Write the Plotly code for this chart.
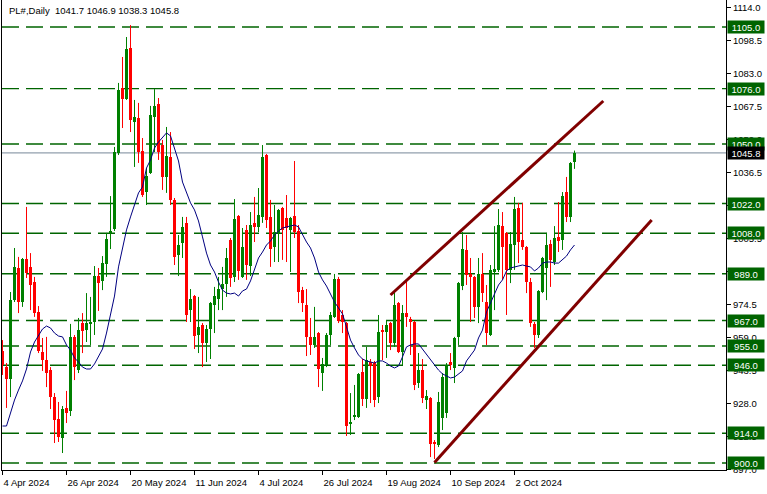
import plotly.graph_objects as go

# ---------------- data ----------------
open_ = [952.7, 945.3, 939.5, 976.6, 991.7, 975.7, 995.9, 992.2, 985.1, 971.0,
         952.2, 948.4, 943.7, 931.0, 920.7, 911.8, 925.9, 924.5, 959.3, 943.7,
         965.8, 962.5, 965.8, 966.3, 987.9, 985.6, 993.6, 1008.2, 1010.0, 1045.8,
         1076.3, 1071.2, 1095.1, 1060.3, 1062.2, 1046.7, 1027.4, 1036.4, 1062.7, 1068.8,
         1049.5, 1034.5, 1043.9, 1023.7, 997.8, 1003.4, 1012.9, 971.9, 978.5, 960.2,
         964.9, 956.4, 963.0, 974.3, 977.1, 981.8, 984.2, 1004.9, 987.5, 1016.1,
         987.5, 1009.6, 992.6, 1012.9, 1011.0, 1015.7, 1044.8, 1015.7, 1001.6, 1008.2,
         1019.9, 1015.2, 1009.6, 1016.1, 1009.1, 981.3, 974.3, 959.3, 955.5, 961.1,
         942.3, 946.1, 960.2, 968.7, 986.5, 969.6, 965.8, 918.3, 921.6, 921.6,
         942.8, 930.1, 947.5, 947.0, 931.0, 962.5, 961.6, 965.8, 956.4, 975.2,
         952.2, 970.5, 967.7, 966.3, 937.6, 943.7, 929.6, 930.6, 909.9, 908.5,
         921.2, 923.5, 947.5, 944.7, 959.3, 983.2, 1000.2, 988.9, 987.5, 973.4,
         988.9, 975.7, 960.2, 989.8, 990.8, 1011.4, 1008.2, 990.8, 1002.5, 1019.9,
         1004.9, 1001.6, 985.1, 965.4, 960.2, 980.4, 991.7, 1003.0, 994.5, 1006.3,
         1004.9, 1027.4, 1015.7, 1041.7]
high = [957.8, 947.0, 980.4, 1001.1, 996.9, 996.4, 1020.4, 998.7, 987.5, 973.8,
        958.8, 959.3, 945.1, 932.9, 928.7, 926.8, 933.9, 965.4, 960.2, 968.2,
        970.5, 979.9, 978.1, 992.6, 991.7, 997.3, 1008.2, 1025.5, 1048.6, 1078.7,
        1090.9, 1100.3, 1105.9, 1070.7, 1069.3, 1052.8, 1038.7, 1067.9, 1075.8, 1071.6,
        1051.9, 1058.0, 1055.6, 1024.6, 1007.2, 1015.7, 1015.7, 981.8, 979.0, 978.1,
        965.8, 964.9, 975.7, 982.8, 987.5, 992.2, 1001.1, 1005.8, 1024.1, 1016.6,
        1010.5, 1011.9, 1018.0, 1025.1, 1029.3, 1049.5, 1045.3, 1023.7, 1021.3, 1019.4,
        1020.4, 1026.0, 1015.7, 1042.0, 1011.9, 982.8, 981.8, 968.2, 973.4, 961.6,
        949.4, 961.1, 971.0, 988.9, 987.5, 971.9, 966.3, 932.9, 936.7, 942.3,
        948.9, 954.6, 948.9, 948.0, 969.6, 964.9, 967.2, 966.3, 980.4, 975.7,
        974.3, 986.1, 968.7, 966.8, 951.7, 948.9, 934.3, 931.0, 910.8, 933.4,
        942.3, 947.0, 951.7, 959.3, 985.1, 1008.6, 1007.2, 996.4, 987.9, 996.4,
        998.7, 983.7, 993.1, 1011.4, 1019.4, 1018.0, 1008.6, 1008.6, 1025.1, 1022.3,
        1022.3, 1002.0, 987.0, 966.3, 981.3, 996.9, 1008.2, 1004.9, 1011.4, 1022.7,
        1027.4, 1034.5, 1041.5, 1046.9]
low = [941.4, 925.9, 931.0, 975.7, 970.5, 973.4, 987.0, 971.9, 968.7, 951.7,
       943.3, 935.7, 925.4, 909.4, 909.9, 904.7, 918.8, 922.1, 939.0, 942.3,
       951.7, 956.9, 955.5, 960.2, 971.5, 981.3, 987.5, 1000.6, 1009.1, 1044.8,
       1057.5, 1070.7, 1055.6, 1039.2, 1041.1, 1025.1, 1021.3, 1035.9, 1046.2, 1042.5,
       1028.4, 1027.0, 1021.3, 993.1, 987.9, 996.4, 966.3, 966.3, 953.6, 951.7,
       945.1, 947.5, 948.9, 961.1, 971.9, 971.9, 978.1, 982.8, 985.1, 986.1,
       987.0, 986.1, 987.9, 1003.9, 1008.6, 1012.9, 1010.5, 992.2, 994.5, 994.5,
       995.5, 994.5, 989.8, 1005.8, 975.2, 971.0, 950.3, 950.8, 954.1, 935.7,
       933.9, 945.1, 955.5, 968.2, 965.8, 961.1, 912.7, 913.2, 920.2, 921.2,
       926.8, 925.9, 928.2, 926.3, 928.2, 948.4, 949.4, 953.1, 954.6, 951.7,
       946.1, 964.0, 950.8, 934.3, 935.3, 928.2, 925.4, 902.8, 901.9, 907.5,
       915.5, 921.2, 943.7, 937.6, 955.5, 981.3, 983.7, 966.3, 968.2, 965.8,
       975.7, 955.5, 959.7, 971.9, 989.8, 986.1, 969.6, 984.6, 990.8, 994.0,
       1000.2, 979.9, 964.0, 954.1, 958.8, 979.9, 976.6, 982.8, 993.1, 999.2,
       1000.2, 1013.3, 1013.3, 1038.3]
close = [946.1, 939.5, 976.6, 992.3, 975.7, 995.9, 989.3, 983.7, 970.5, 952.7,
         948.4, 942.3, 931.0, 920.2, 912.2, 925.4, 923.5, 959.3, 945.1, 962.5,
         962.1, 965.8, 966.3, 987.9, 984.6, 994.0, 1005.3, 1009.1, 1046.2, 1075.4,
         1071.2, 1094.7, 1061.3, 1062.7, 1046.2, 1026.0, 1034.9, 1063.6, 1067.9, 1046.2,
         1034.5, 1044.4, 1023.7, 996.9, 1002.5, 1011.0, 969.6, 977.1, 959.7, 964.0,
         956.4, 963.0, 975.2, 978.5, 981.8, 984.2, 996.4, 987.0, 1014.7, 990.3,
         1001.6, 993.1, 1011.9, 1011.0, 1016.6, 1043.9, 1014.3, 1000.6, 1008.6, 1019.0,
         1009.6, 1010.5, 1015.2, 1008.6, 980.4, 975.2, 959.3, 955.5, 959.3, 944.2,
         946.6, 960.2, 969.6, 986.5, 966.8, 966.3, 917.4, 919.3, 922.6, 941.9,
         930.1, 948.4, 945.6, 929.6, 961.6, 961.6, 964.9, 956.4, 974.3, 952.2,
         970.5, 968.7, 966.3, 936.7, 943.7, 930.6, 931.5, 908.9, 908.9, 928.7,
         940.4, 946.1, 946.1, 958.8, 984.6, 1000.6, 988.4, 987.5, 973.4, 988.9,
         979.9, 961.1, 990.8, 991.2, 1011.9, 1001.6, 990.8, 1003.0, 1019.4, 1003.9,
         1001.6, 985.1, 965.8, 960.2, 980.9, 996.4, 1002.5, 995.5, 1005.8, 1004.4,
         1025.5, 1015.7, 1041.1, 1045.8]
ma = [917.4, 917.4, 923.5, 929.6, 934.3, 938.6, 944.2, 952.2, 956.9, 960.2,
      963.0, 964.4, 963.5, 961.1, 959.7, 959.3, 955.5, 953.1, 949.4, 947.5,
      945.1, 944.2, 944.2, 946.6, 949.9, 953.6, 961.1, 970.5, 978.5, 992.2,
      1001.1, 1009.6, 1015.7, 1021.3, 1027.0, 1029.8, 1038.7, 1042.5, 1048.1, 1050.9,
      1053.3, 1055.2, 1053.8, 1047.6, 1042.0, 1032.1, 1027.0, 1022.3, 1019.0, 1013.8,
      1006.3, 998.7, 993.1, 989.8, 985.1, 981.3, 979.9, 979.5, 979.9, 978.5,
      980.9, 981.8, 985.6, 990.8, 996.4, 999.2, 1002.5, 1004.4, 1007.2, 1009.1,
      1010.5, 1011.0, 1011.4, 1011.9, 1011.0, 1007.2, 1003.9, 1001.1, 996.4, 989.8,
      986.1, 983.2, 979.5, 975.7, 972.9, 970.1, 964.0, 957.8, 954.1, 950.8,
      948.9, 948.0, 947.5, 947.0, 948.0, 948.0, 947.0, 945.6, 944.7, 945.6,
      949.9, 954.6, 955.5, 956.0, 956.0, 953.6, 950.8, 948.9, 946.1, 943.7,
      941.9, 940.9, 940.0, 940.4, 941.9, 943.3, 948.0, 950.3, 953.1, 958.8,
      962.5, 971.0, 975.2, 979.5, 983.7, 986.1, 990.3, 991.7, 992.2, 992.6,
      993.1, 992.6, 992.2, 990.3, 991.7, 994.0, 994.5, 994.5, 994.0, 994.0,
      995.9, 997.3, 1000.2, 1002.5]

date_tick_bars = [0, 16, 32, 48, 64, 80, 96, 112, 128]
date_tick_labels = ["4 Apr 2024", "26 Apr 2024", "20 May 2024", "11 Jun 2024",
                    "4 Jul 2024", "26 Jul 2024", "19 Aug 2024", "10 Sep 2024", "2 Oct 2024"]
price_ticks = [1114.0, 1098.5, 1083.0, 1067.5, 1052.0, 1036.5, 1021.0, 1005.5,
               990.0, 974.5, 959.0, 943.5, 928.0, 912.5, 897.0]
levels = [1105.0, 1076.0, 1050.0, 1022.0, 1008.0, 989.0, 967.0, 955.0, 946.0, 914.0, 900.0]
bid_price = 1045.8
upper_channel_x = [97.0, 150.2]
upper_channel_y = [979.0, 1070.2]
lower_channel_x = [108.0, 162.3]
lower_channel_y = [900.2, 1014.3]
title_text = "PL#,Daily&nbsp; 1041.7 1046.9 1038.3 1045.8"

# ---------------- styles ----------------
UP = "#008000"
DOWN = "#ff0000"
LEVEL = "#006400"
FONT = "Tahoma, 'Liberation Sans', Arial, sans-serif"

n = len(close)
idx = list(range(n))

fig = go.Figure()

# wicks
for color, up in ((UP, True), (DOWN, False)):
    wx, wy = [], []
    for i in idx:
        if (close[i] >= open_[i]) == up:
            wx += [i, i, None]
            wy += [low[i], high[i], None]
    fig.add_trace(go.Scatter(x=wx, y=wy, mode="lines", line=dict(color=color, width=1),
                             hoverinfo="skip", showlegend=False))

# bodies
base = [min(o, c) for o, c in zip(open_, close)]
height = [max(abs(c - o), 0.45) for o, c in zip(open_, close)]
colors = [UP if c >= o else DOWN for o, c in zip(open_, close)]
fig.add_trace(go.Bar(x=idx, y=height, base=base, width=0.75,
                     marker=dict(color=colors, line=dict(width=0)),
                     showlegend=False, hoverinfo="skip"))

# moving average
fig.add_trace(go.Scatter(x=idx, y=ma, mode="lines", line=dict(color="#000080", width=1),
                         showlegend=False, hoverinfo="skip"))

shapes = []
for lv in levels:
    shapes.append(dict(type="line", xref="paper", x0=0, x1=1, yref="y", y0=lv, y1=lv,
                       line=dict(color=LEVEL, width=1.4, dash="17px,7px"), layer="below"))
shapes.append(dict(type="line", xref="paper", x0=0, x1=1, yref="y", y0=bid_price, y1=bid_price,
                   line=dict(color="#778899", width=1), layer="below"))
shapes.append(dict(type="line", xref="x", yref="y",
                   x0=upper_channel_x[0], x1=upper_channel_x[1],
                   y0=upper_channel_y[0], y1=upper_channel_y[1],
                   line=dict(color="#800000", width=3)))
shapes.append(dict(type="line", xref="x", yref="y",
                   x0=lower_channel_x[0], x1=lower_channel_x[1],
                   y0=lower_channel_y[0], y1=lower_channel_y[1],
                   line=dict(color="#800000", width=3)))

annotations = []
for lv in levels:
    annotations.append(dict(xref="paper", x=1, xanchor="left", xshift=1, yref="y", y=lv,
                            text=f"{lv:.1f}", showarrow=False, bgcolor=LEVEL,
                            font=dict(family=FONT, size=9.5, color="white"),
                            width=34, height=10, borderpad=1, align="center"))
annotations.append(dict(xref="paper", x=1, xanchor="left", xshift=1, yref="y", y=bid_price,
                        text=f"{bid_price:.1f}", showarrow=False, bgcolor="black",
                        font=dict(family=FONT, size=9.5, color="white"),
                        width=34, height=10, borderpad=1, align="center"))
annotations.append(dict(xref="paper", x=0, xanchor="left", xshift=5, yref="paper", y=1,
                        yanchor="top", yshift=-3, text=title_text, showarrow=False,
                        font=dict(family=FONT, size=9.5, color="black")))

fig.update_layout(
    template="none",
    width=767, height=494,
    margin=dict(l=2, r=41, t=0, b=24, pad=0, autoexpand=False),
    paper_bgcolor="white", plot_bgcolor="white",
    barmode="overlay", bargap=0,
    showlegend=False, hovermode=False,
    shapes=shapes, annotations=annotations,
    font=dict(family=FONT, size=9.5, color="black"),
    xaxis=dict(range=[-0.125, 180.875], showgrid=False, zeroline=False, automargin=False,
               showline=True, linecolor="black", linewidth=1,
               tickmode="array", tickvals=date_tick_bars, ticktext=date_tick_labels,
               ticks="outside", ticklen=4, tickcolor="black", tickwidth=1,
               ticklabelposition="outside right", ticklabelstandoff=4,
               tickfont=dict(family=FONT, size=9.5, color="black")),
    yaxis=dict(range=[896.72, 1117.69], side="right", showgrid=False, zeroline=False,
               automargin=False,
               showline=True, linecolor="black", linewidth=1, mirror=True,
               tickmode="array", tickvals=price_ticks,
               ticktext=[f"{t:.1f}" for t in price_ticks],
               ticks="outside", ticklen=4, tickcolor="black", tickwidth=1,
               tickfont=dict(family=FONT, size=9.5, color="black")),
)

fig.write_html("out.html", config={"displayModeBar": False},
               post_script="document.body.style.margin='0';document.body.style.overflow='hidden';")
